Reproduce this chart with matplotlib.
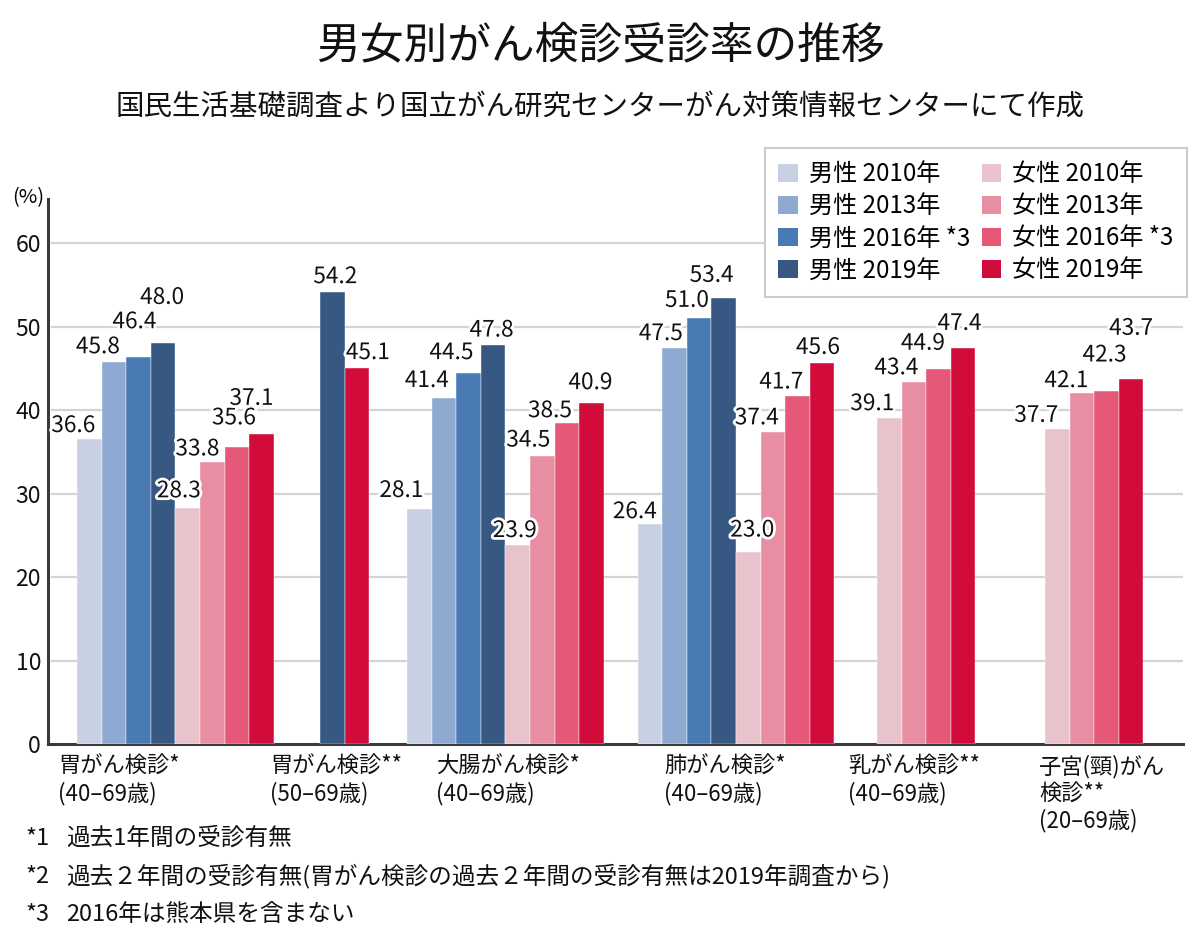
import matplotlib
matplotlib.use('Agg')
import matplotlib.pyplot as plt
import matplotlib.patheffects as pe
from matplotlib.patches import Patch

plt.rcParams['font.family'] = ['Noto Sans CJK JP', 'DejaVu Sans']

# ---------------- data ----------------
title = '男女別がん検診受診率の推移'
subtitle = '国民生活基礎調査より国立がん研究センターがん対策情報センターにて作成'
categories = ['胃がん検診*\n(40–69歳)', '胃がん検診**\n(50–69歳)', '大腸がん検診*\n(40–69歳)',
              '肺がん検診*\n(40–69歳)', '乳がん検診**\n(40–69歳)', '子宮(頸)がん\n検診**\n(20–69歳)']
series_names = ['男性 2010年', '男性 2013年', '男性 2016年 *3', '男性 2019年',
                '女性 2010年', '女性 2013年', '女性 2016年 *3', '女性 2019年']
male_2010 = [36.6, None, 28.1, 26.4, None, None]
male_2013 = [45.8, None, 41.4, 47.5, None, None]
male_2016 = [46.4, None, 44.5, 51.0, None, None]
male_2019 = [48.0, 54.2, 47.8, 53.4, None, None]
female_2010 = [28.3, None, 23.9, 23.0, 39.1, 37.7]
female_2013 = [33.8, None, 34.5, 37.4, 43.4, 42.1]
female_2016 = [35.6, None, 38.5, 41.7, 44.9, 42.3]
female_2019 = [37.1, 45.1, 40.9, 45.6, 47.4, 43.7]
series_values = [male_2010, male_2013, male_2016, male_2019,
                 female_2010, female_2013, female_2016, female_2019]
yticks = [0, 10, 20, 30, 40, 50, 60]
y_unit = '(%)'
footnote_marks = ['*1', '*2', '*3']
footnote_texts = ['過去1年間の受診有無',
                  '過去２年間の受診有無(胃がん検診の過去２年間の受診有無は2019年調査から)',
                  '2016年は熊本県を含まない']

# ---------------- style / layout ----------------
colors = ['#c8d1e3', '#8eaad0', '#4a7ab3', '#375883',
          '#e9c3cb', '#e88ea2', '#e65878', '#d20c3a']
FW, FH = 1200, 946
AX_L, AX_R, AX_B, AX_T = 48, 1183, 744, 199
BAR_W = 24.6
group_starts = [77, 320, 407, 637.5, 877, 1045]
cat_label_x = [58, 270, 436, 664, 848, 1039]
# value-label offsets (pixels) relative to bar top-center
label_offsets = [
    [(-16, 13), (-16, 15), (-4, 35), (-1, 46), (-9, 17), (-15, 13), (-3, 29), (-10, 36)],
    [(3, 15), (11, 15)],
    [(-18, 19), (-17, 18), (-17, 20), (-1.5, 15), (-3, 14), (-14, 16), (-17, 12), (-1, 20)],
    [(-15, 12), (-13.5, 14), (-12, 18), (-12, 23), (4, 22), (-16, 14), (-16, 14), (-4, 16)],
    [(-17, 14), (-17.5, 14), (-15.5, 26), (-3.5, 25)],
    [(-21, 14), (-15.5, 12), (-2, 36), (0, 51)],
]

fig = plt.figure(figsize=(FW / 100, FH / 100), dpi=100)
ax = fig.add_axes([AX_L / FW, 1 - AX_B / FH, (AX_R - AX_L) / FW, (AX_B - AX_T) / FH])
ax.set_xlim(AX_L, AX_R)
ax.set_ylim(0, 65.3)

halo = [pe.withStroke(linewidth=4, foreground='white')]
for g, start in enumerate(group_starts):
    present = [(s, series_values[s][g]) for s in range(len(series_values))
               if series_values[s][g] is not None]
    for k, (s, v) in enumerate(present):
        x = start + k * BAR_W
        ax.bar(x, v, width=BAR_W, align='edge', color=colors[s],
               edgecolor='white', linewidth=0.3, zorder=3)
        dx, dy = label_offsets[g][k]
        ax.annotate(f'{v:.1f}', xy=(x + BAR_W / 2, v), xytext=(dx, dy),
                    textcoords='offset pixels', ha='center', va='center',
                    fontsize=16.3, color='#111111', path_effects=halo, zorder=6)

# axes styling
ax.set_yticks(yticks)
ax.set_xticks([])
ax.tick_params(axis='y', length=0, pad=5, labelsize=16.5, labelcolor='#111111')
for t in yticks[1:]:
    ax.plot([AX_L + 4, AX_R], [t, t], color='#d4d4d4', linewidth=1.6, zorder=1)
for sp in ['top', 'right']:
    ax.spines[sp].set_visible(False)
for sp in ['left', 'bottom']:
    ax.spines[sp].set_color('#3a3a3a')
    ax.spines[sp].set_linewidth(2.2)

# category labels
for cx, lab in zip(cat_label_x, categories):
    fig.text(cx / FW, 1 - 755 / FH, lab, ha='left', va='top', fontsize=16,
             linespacing=1.2, color='#111111')

# unit label
fig.text(28 / FW, 1 - 198 / FH, y_unit, ha='center', va='center', fontsize=14.5)

# titles
fig.text(0.5, 1 - 45 / FH, title, ha='center', va='center', fontsize=31.5, color='#111111')
fig.text(0.5, 1 - 108 / FH, subtitle, ha='center', va='center', fontsize=20.5, color='#111111')

# footnotes
for i, (m, t) in enumerate(zip(footnote_marks, footnote_texts)):
    yy = 1 - (838 + 38 * i) / FH
    fig.text(25 / FW, yy, m, ha='left', va='center', fontsize=17, color='#111111')
    fig.text(66 / FW, yy, t, ha='left', va='center', fontsize=17, color='#111111')

# legend
handles = [Patch(facecolor=c, edgecolor='none') for c in colors]
leg = fig.legend(handles, series_names, ncol=2, loc='upper right',
                 bbox_to_anchor=(1187 / FW, 1 - 148 / FH), frameon=True, fancybox=False,
                 fontsize=17.4, handlelength=0.8, handleheight=0.8, handletextpad=0.45,
                 labelspacing=0.25, columnspacing=0.5, borderpad=0.55, borderaxespad=0)
leg.get_frame().set_edgecolor('#cccccc')
leg.get_frame().set_linewidth(1.5)
leg.get_frame().set_alpha(1)

fig.savefig('out.png', dpi=100)
